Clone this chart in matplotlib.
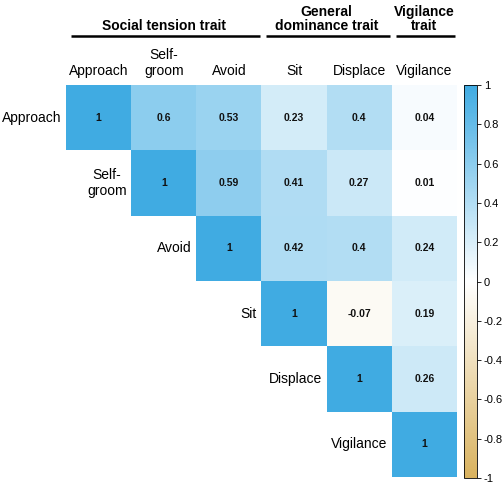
import numpy as np
import matplotlib
matplotlib.use("Agg")
import matplotlib.pyplot as plt
from matplotlib.colors import LinearSegmentedColormap

plt.rcParams['font.family'] = ['Liberation Sans', 'DejaVu Sans']

labels = ["Approach", "Self-\ngroom", "Avoid", "Sit", "Displace", "Vigilance"]
row0 = [1, 0.6, 0.53, 0.23, 0.4, 0.04]
row1 = [1, 0.59, 0.41, 0.27, 0.01]
row2 = [1, 0.42, 0.4, 0.24]
row3 = [1, -0.07, 0.19]
row4 = [1, 0.26]
row5 = [1]
rows = [row0, row1, row2, row3, row4, row5]
groups = ["Social tension trait", "General\ndominance trait", "Vigilance\ntrait"]
group_spans = [(0, 3), (3, 5), (5, 6)]
cbar_ticks = [-1, -0.8, -0.6, -0.4, -0.2, 0, 0.2, 0.4, 0.6, 0.8, 1]

n = len(labels)
M = np.full((n, n), np.nan)
for i, r in enumerate(rows):
    M[i, i:] = r
Mm = np.ma.masked_invalid(M)

cmap = LinearSegmentedColormap.from_list("bt", ["#D9B25E", "#FFFFFF", "#40ABE2"])

W, H = 504, 483
fig = plt.figure(figsize=(W / 100, H / 100), dpi=100)
ax = fig.add_axes([66 / W, 1 - 477 / H, (457 - 66) / W, (477 - 85) / H])
im = ax.pcolormesh(np.arange(n + 1) - 0.5, np.arange(n + 1) - 0.5, Mm,
                   cmap=cmap, vmin=-1, vmax=1)
ax.set_xlim(-0.5, n - 0.5)
ax.set_ylim(n - 0.5, -0.5)
ax.axis('off')

for i in range(n):
    for j in range(i, n):
        v = M[i, j]
        ax.text(j, i, f"{v:g}", ha='center', va='center', fontsize=7.5,
                fontweight='bold', color='#111111')
    # row labels
    ax.text(i - 0.5 - 0.07, i, labels[i], ha='right', va='center',
            multialignment='center', fontsize=10, linespacing=1.25,
            clip_on=False)
    # column labels
    ax.text(i, -0.6, labels[i], ha='center', va='bottom', fontsize=10,
            linespacing=1.25, clip_on=False)

# group headers
for g, (a, b) in zip(groups, group_spans):
    x0 = a - 0.5 + 0.07
    x1 = b - 0.5 - 0.03
    ax.plot([x0, x1], [-1.25, -1.25], color='black', lw=1.8, clip_on=False,
            solid_capstyle='butt')
    ax.text((a + b - 1) / 2, -1.30, g, ha='center', va='bottom', fontsize=10,
            fontweight='bold', linespacing=1.0, clip_on=False)

cax = fig.add_axes([464 / W, 1 - 478 / H, 13 / W, (478 - 85) / H])
cb = fig.colorbar(im, cax=cax, ticks=cbar_ticks)
cb.ax.set_yticklabels([f"{t:g}" for t in cbar_ticks])
cb.ax.tick_params(labelsize=8, length=3, width=0.6, direction='out', pad=2)
cb.outline.set_linewidth(0.6)

fig.savefig("out.png", dpi=100)
